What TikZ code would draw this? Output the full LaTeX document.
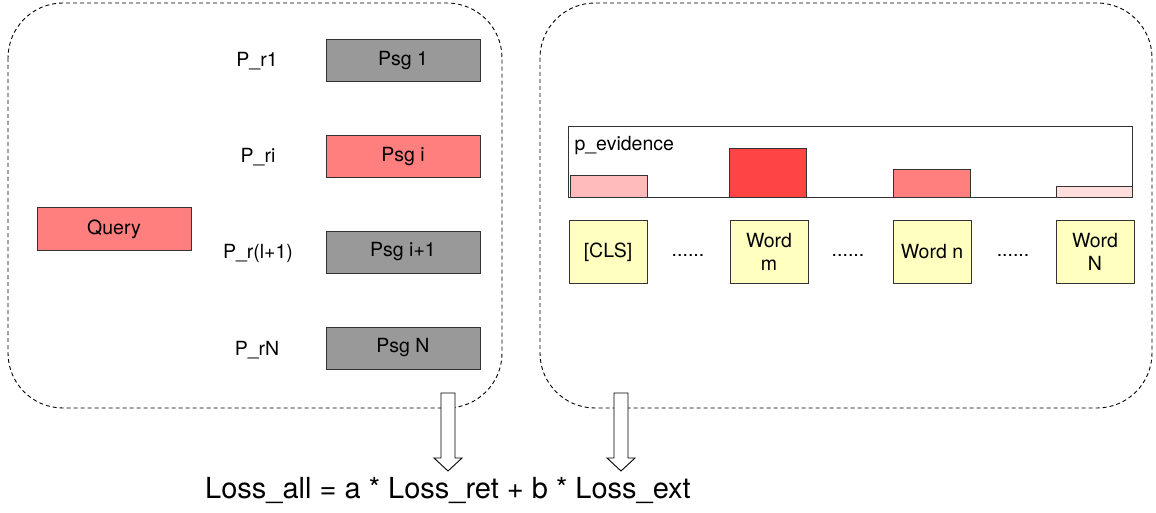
\documentclass[tikz,border=0pt]{standalone}
\usepackage{fontspec}
\setmainfont{TeX Gyre Heros}
\definecolor{psggray}{HTML}{999999}
\definecolor{hotred}{HTML}{FF7F7F}
\definecolor{deepred}{HTML}{FF4444}
\definecolor{palered}{HTML}{FFBBBB}
\definecolor{faintred}{HTML}{FFDDDD}
\definecolor{tokyellow}{HTML}{FFFFC0}
\definecolor{edge}{HTML}{333333}
\begin{document}
\begin{tikzpicture}[x=1pt,y=-1pt,
  lbl/.style={font=\fontsize{19.5}{23}\selectfont},
  psg/.style={draw=edge, line width=1pt, minimum width=154pt, minimum height=42pt, inner sep=0pt, lbl},
  tok/.style={draw=edge, line width=1pt, fill=tokyellow, minimum width=78pt, minimum height=63pt, inner sep=0pt, align=center, font=\fontsize{19.5}{23.5}\selectfont},
  bar/.style={draw=edge, line width=1pt},
  group/.style={draw=black, line width=0.9pt, dash pattern=on 4pt off 3pt, rounded corners=55pt},
  blockarrow/.style={draw=black, line width=0.9pt, fill=white}]
\useasboundingbox (0,0) rectangle (1156,513);

% retrieval group
\draw[group] (8,3) rectangle (502,408);
\node[psg, fill=psggray] (p1) at (403,61) {Psg 1};
\node[psg, fill=hotred] (pi) at (403,157) {Psg i};
\node[psg, fill=psggray] (pi1) at (403,252) {Psg i+1};
\node[psg, fill=psggray] (pN) at (403,348) {Psg N};
\node[lbl] (lr1) at (257,61) {P\_r1};
\node[lbl] (lri) at (258,157) {P\_ri};
\node[lbl] (lri1) at (258,253) {P\_r(l+1)};
\node[lbl] (lrN) at (257,350) {P\_rN};
\node[psg, fill=hotred] (query) at (114,229) {Query};

% extraction group
\draw[group] (540,3) rectangle (1152,408);
\draw[line width=1pt, draw=edge] (568,127) rectangle (1132,198);
\node[lbl, anchor=west] (pev) at (571,146) {p\_evidence};
\draw[bar, fill=palered] (570,176) rectangle (647,198);
\draw[bar, fill=deepred] (729,149) rectangle (806,198);
\draw[bar, fill=hotred] (893,170) rectangle (970,198);
\draw[bar, fill=faintred] (1056,187) rectangle (1132,198);
\draw[line width=1pt, draw=edge] (568,198) -- (1132,198);

\node[tok] (cls) at (608,252) {[CLS]};
\node[tok] (wm) at (769,252) {Word\\m};
\node[tok] (wn) at (932,252) {Word n};
\node[tok] (wN) at (1095,252) {Word\\N};
\node[lbl] (d1) at (688,255) {......};
\node[lbl] (d2) at (848,255) {......};
\node[lbl] (d3) at (1013,255) {......};

% hollow arrows down to the combined loss
\coordinate (la) at (448,393);
\coordinate (ra) at (621,393);
\draw[blockarrow] (la) ++(-7,0) -- ++(14,0) -- ++(0,65) -- ++(7,0) -- ++(-14,13) -- ++(-14,-13) -- ++(7,0) -- cycle;
\draw[blockarrow] (ra) ++(-7,0) -- ++(14,0) -- ++(0,65) -- ++(7,0) -- ++(-14,13) -- ++(-14,-13) -- ++(7,0) -- cycle;
\node[anchor=base, font=\fontsize{29}{34}\selectfont] (loss) at (448,498) {Loss\_all = a * Loss\_ret + b * Loss\_ext};
\end{tikzpicture}
\end{document}
